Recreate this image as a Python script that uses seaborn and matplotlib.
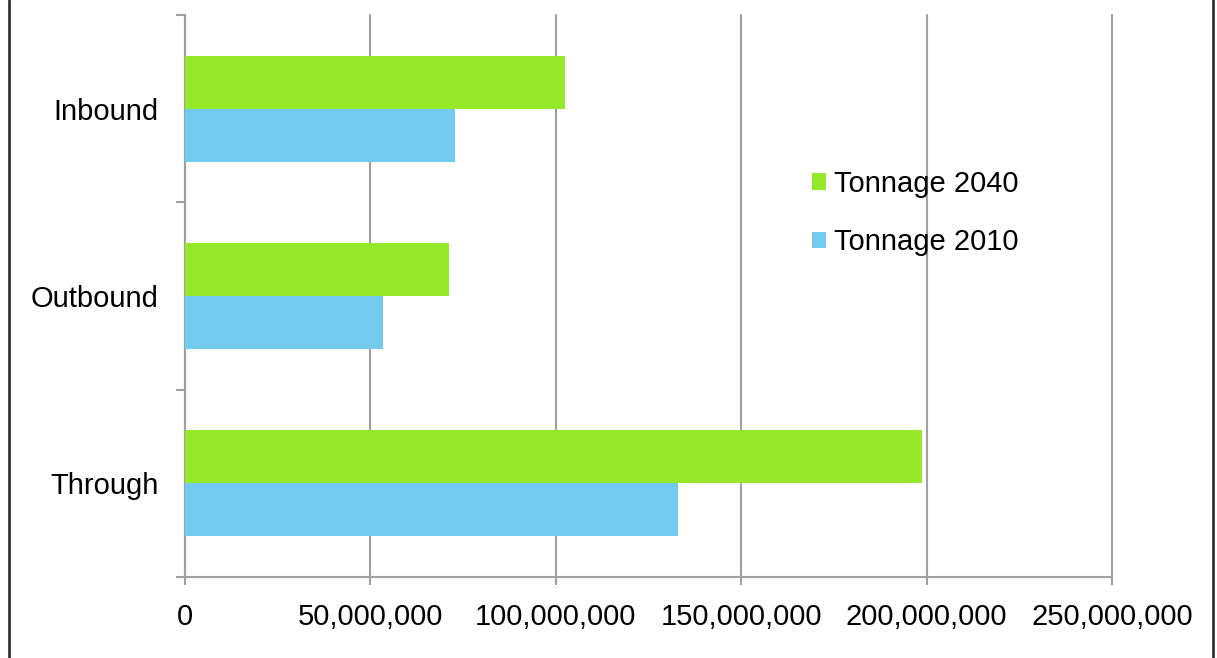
import numpy as np
import pandas as pd
import matplotlib
matplotlib.use("Agg")
import matplotlib.pyplot as plt
from matplotlib.lines import Line2D
from matplotlib.ticker import FuncFormatter, FixedLocator
import seaborn as sns

CATEGORIES = ['Inbound', 'Outbound', 'Through']
SERIES = ['Tonnage 2040', 'Tonnage 2010']
TONNAGE_2040 = [102500000, 71200000, 198800000]
TONNAGE_2010 = [72800000, 53400000, 133000000]
COLORS = ['#96e82a', '#72cbee']
X_TICKS = [0, 50000000, 100000000, 150000000, 200000000, 250000000]

df = pd.DataFrame({
    'category': CATEGORIES * 2,
    'series': [SERIES[0]] * 3 + [SERIES[1]] * 3,
    'value': TONNAGE_2040 + TONNAGE_2010,
})

sns.set_style("white")
plt.rcParams['font.family'] = ['Liberation Sans', 'DejaVu Sans']
plt.rcParams['text.color'] = 'black'
plt.rcParams['xtick.labelcolor'] = 'black'
plt.rcParams['ytick.labelcolor'] = 'black'
GRID = '#a0a0a0'

fig = plt.figure(figsize=(12.17, 6.58), dpi=100)
ax = fig.add_axes([185 / 1217, (658 - 577) / 658, (1112 - 185) / 1217, (577 - 15) / 658])

sns.barplot(data=df, y='category', x='value', hue='series', order=CATEGORIES,
            hue_order=SERIES, palette=COLORS, orient='h', width=0.566,
            saturation=1, ax=ax, zorder=3, linewidth=0)

ax.set_xlim(0, 250000000)
ax.set_ylim(2.5, -0.5)
ax.xaxis.set_major_locator(FixedLocator(X_TICKS))
ax.xaxis.set_major_formatter(FuncFormatter(lambda v, p: f"{int(v):,}"))
ax.grid(axis='x', color=GRID, linewidth=1.5, zorder=0)
for gl in ax.get_xgridlines():
    gl.set_clip_on(False)
ax.set_axisbelow(True)
ax.set_xlabel('')
ax.set_ylabel('')

ax.yaxis.set_minor_locator(FixedLocator([-0.5, 0.5, 1.5, 2.5]))
ax.tick_params(axis='y', which='major', length=0, pad=19, labelsize=21, labelcolor='black')
ax.tick_params(axis='y', which='minor', length=6.5, width=1.5, color=GRID, direction='out', left=True)
ax.tick_params(axis='x', which='major', length=6, width=1.5, color=GRID, direction='out',
               bottom=True, pad=13, labelsize=21, labelcolor='black')

for side in ['top', 'right']:
    ax.spines[side].set_visible(False)
for side in ['left', 'bottom']:
    ax.spines[side].set_color(GRID)
    ax.spines[side].set_linewidth(1.5)

leg = ax.legend(loc='upper left', bbox_to_anchor=((800 - 185) / 927, (577 - 158) / 562),
                frameon=False, fontsize=21, handlelength=0.5, handleheight=0.5,
                handletextpad=0.25, labelspacing=1.05, borderaxespad=0)
for t in leg.get_texts():
    t.set_color('black')

# outer frame lines left and right
fig.add_artist(Line2D([9 / 1217, 9 / 1217], [0, 1], color='#333333', linewidth=2))
fig.add_artist(Line2D([1213 / 1217, 1213 / 1217], [0, 1], color='#333333', linewidth=2))

fig.savefig('out.png', dpi=100)
